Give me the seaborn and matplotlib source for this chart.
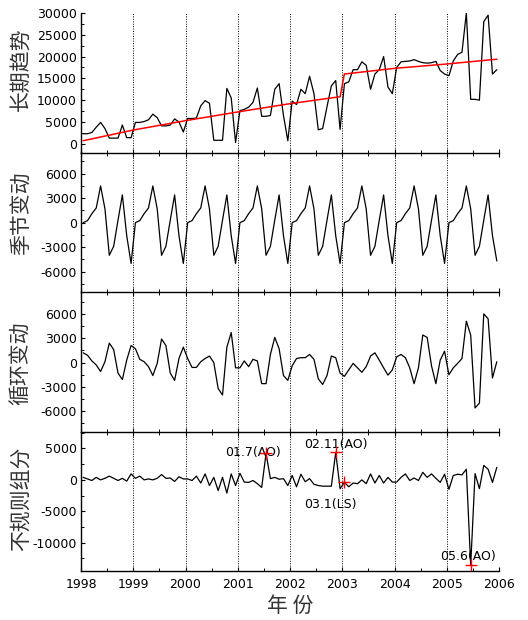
import numpy as np
import pandas as pd
import matplotlib
matplotlib.use("Agg")
import matplotlib.pyplot as plt
from matplotlib.ticker import MultipleLocator
import seaborn as sns

# ---------------- data ----------------
n_months = 96
year_ticks = [1998, 1999, 2000, 2001, 2002, 2003, 2004, 2005, 2006]

observed = [
    2300, 2300, 2600, 3800, 4900, 3500, 1300, 1300, 1300, 4300, 1400, 1400,
    4900, 4900, 5100, 5500, 6800, 6000, 4100, 4100, 4300, 5700, 5000, 2700,
    5800, 5800, 5900, 8700, 9900, 9300, 800, 800, 800, 12700, 10500, 300,
    7600, 7900, 8400, 9500, 12800, 6300, 6300, 6500, 12500, 13800, 6500, 700,
    9800, 9000, 12500, 11500, 15500, 11500, 3200, 3500, 8500, 13300, 14500, 3300,
    13800, 14200, 17000, 17000, 18800, 18000, 12500, 16000, 17000, 20000, 13000, 11500,
    17500, 18800, 18900, 19000, 19300, 18900, 18600, 18500, 18600, 18900, 16800, 16000,
    15600, 19000, 20500, 21000, 30000, 10200, 10200, 10000, 28000, 29500, 16000, 17000,
]

trend_x = [1998.04, 1999.0, 2000.0, 2001.0, 2002.0, 2002.96, 2003.04, 2004.0, 2005.0, 2005.96]
trend_y = [700, 3150, 5300, 7300, 9200, 10800, 16000, 17300, 18300, 19400]

seasonal = [
    0, 250, 1100, 1800, 4500, 1700, -4000, -2900, 300, 3400, -1600, -5000,
    0, 250, 1100, 1800, 4500, 1700, -4000, -2900, 300, 3400, -1600, -5000,
    0, 250, 1100, 1800, 4500, 1700, -4000, -2900, 300, 3400, -1600, -5000,
    0, 250, 1100, 1800, 4500, 1700, -4000, -2900, 300, 3400, -1600, -5000,
    0, 250, 1100, 1800, 4500, 1700, -4000, -2900, 300, 3400, -1600, -5000,
    0, 250, 1100, 1800, 4500, 1700, -4000, -2900, 300, 3400, -1600, -5000,
    0, 250, 1100, 1800, 4500, 1700, -4000, -2900, 300, 3400, -1600, -5000,
    0, 250, 1100, 1800, 4500, 1700, -4000, -2900, 300, 3400, -1600, -4700,
]

cyclical = [
    1200, 900, 200, -300, -1100, 100, 2400, 1600, -1300, -2100, 300, 2100,
    1700, 400, 100, -500, -1600, -100, 2900, 2100, -1300, -2200, 500, 1900,
    500, -600, -600, 100, 500, 800, 0, -3200, -4000, 1900, 3700, -650,
    -650, 200, -500, 400, 200, -2600, -2600, 1000, 3100, 1700, -1600, -2200,
    -400, 500, 600, 600, 1000, 400, -2000, -2700, -1600, 800, 600, -1300,
    -1700, -900, -100, -650, -1200, -500, 800, 1200, 300, -650, -1550, -900,
    700, 1000, 600, -650, -2600, -650, 3400, 3100, -400, -2600, 300, 1400,
    -1500, -650, -100, 500, 5100, 3400, -5600, -5000, 6000, 5400, -1900, 100,
]

irregular = [
    400, 150, -100, 400, 0, 250, 600, 250, -100, 250, -200, 950,
    250, 600, 0, 150, 0, 250, 850, 250, 300, -250, 500, 150,
    150, -100, 600, -500, 950, -900, 400, -1700, 400, -2100, 950, -900,
    1050, -350, -400, -100, -600, -1200, 4200, 200, 400, 100, 200, -900,
    700, -1100, 900, -300, 200, -700, -900, -1000, -1000, -1000, 4400, -1400,
    -400, -1100, -500, -600, 0, -600, 950, -500, 700, -500, 400, -350,
    -350, 400, 950, -100, 300, -100, 1200, 400, 950, 250, -400, 900,
    -1500, 700, 900, 800, 1700, -13600, 1000, -1400, 2300, 1700, -400, 2000,
]

outlier_month_idx = [42, 58, 60, 89]
outlier_values = [4300, 4500, -400, -13600]
outlier_labels = ["01.7(AO)", "02.11(AO)", "03.1(LS)", "05.6(AO)"]
outlier_text_x = [2001.29, 2002.875, 2002.77, 2005.40]
outlier_text_y = [4300, 5600, -3840, -12200]

panel_labels = ["长期趋势", "季节变动", "循环变动", "不规则组分"]
panel_yticks = [
    [0, 5000, 10000, 15000, 20000, 25000, 30000],
    [-6000, -3000, 0, 3000, 6000],
    [-6000, -3000, 0, 3000, 6000],
    [-10000, -5000, 0, 5000],
]
panel_yminor = [2500, 1500, 1500, 2500]
panel_ylims = [(-2000, 30000), (-8500, 8600), (-8500, 8700), (-14500, 7700)]
panel_label_y = [0.60, 0.565, 0.49, 0.516]

# ---------------- style ----------------
sns.set_style("ticks")
plt.rcParams["font.family"] = ["DejaVu Sans", "Noto Sans CJK SC"]
plt.rcParams["axes.unicode_minus"] = False
cjk = ["Noto Sans CJK SC", "DejaVu Sans"]

t = 1998 + (np.arange(n_months) + 0.5) / 12.0
series_list = [observed, seasonal, cyclical, irregular]

fig = plt.figure(figsize=(5.28, 6.2), dpi=100)
left, right = 81 / 528, 499 / 528
top, bottom = 1 - 13 / 620, 1 - 571 / 620
h = (top - bottom) / 4
axes = [fig.add_axes([left, top - (k + 1) * h, right - left, h]) for k in range(4)]

for k, ax in enumerate(axes):
    ax.set_facecolor("none")
    df = pd.DataFrame({"t": t, "v": series_list[k]})
    sns.lineplot(data=df, x="t", y="v", ax=ax, color="black", lw=0.9,
                 estimator=None, sort=False)
    if k == 0:
        sns.lineplot(x=trend_x, y=trend_y, ax=ax, color="red", lw=1.1,
                     estimator=None, sort=False)
    for yr in year_ticks[1:-1]:
        ax.axvline(yr, color="black", ls=(0, (1, 1.5)), lw=0.7, zorder=0)
    ax.set_xlim(year_ticks[0], year_ticks[-1])
    ax.set_ylim(*panel_ylims[k])
    ax.set_yticks(panel_yticks[k])
    ax.yaxis.set_minor_locator(MultipleLocator(panel_yminor[k]))
    ax.set_xticks(year_ticks)
    ax.xaxis.set_minor_locator(MultipleLocator(0.5))
    ax.spines["top"].set_visible(False)
    ax.spines["right"].set_visible(False)
    for s in ("left", "bottom"):
        ax.spines[s].set_linewidth(1.0)
        ax.spines[s].set_color("black")
        ax.spines[s].set_zorder(10)
    ax.tick_params(axis="y", which="major", direction="in", length=3, width=0.8,
                   labelsize=9, pad=3, colors="black")
    ax.tick_params(axis="y", which="minor", direction="in", length=2, width=0.7,
                   colors="black")
    ax.tick_params(axis="x", which="major", direction="in", length=3, width=0.8,
                   labelsize=9, pad=5, colors="black", top=(k > 0))
    ax.tick_params(axis="x", which="minor", direction="in", length=2.5, width=0.7,
                   colors="black", top=(k > 0))
    ax.set_xlabel("")
    ax.set_ylabel(panel_labels[k], fontsize=15, color="#333333", family=cjk)
    ax.yaxis.set_label_coords(-0.117, panel_label_y[k])
    if k < 3:
        ax.tick_params(axis="x", labelbottom=False)

ax4 = axes[3]
mx = [t[i] for i in outlier_month_idx]
sns.scatterplot(x=mx, y=outlier_values, ax=ax4, marker="+", s=70,
                color="red", linewidth=1.0, zorder=5)
for lab, tx, ty in zip(outlier_labels, outlier_text_x, outlier_text_y):
    ax4.text(tx, ty, lab, ha="center", va="center", fontsize=9, color="black")
ax4.set_xlabel("年 份", fontsize=15, color="#333333", labelpad=3, family=cjk)

fig.savefig("out.png", dpi=100, facecolor="white")
